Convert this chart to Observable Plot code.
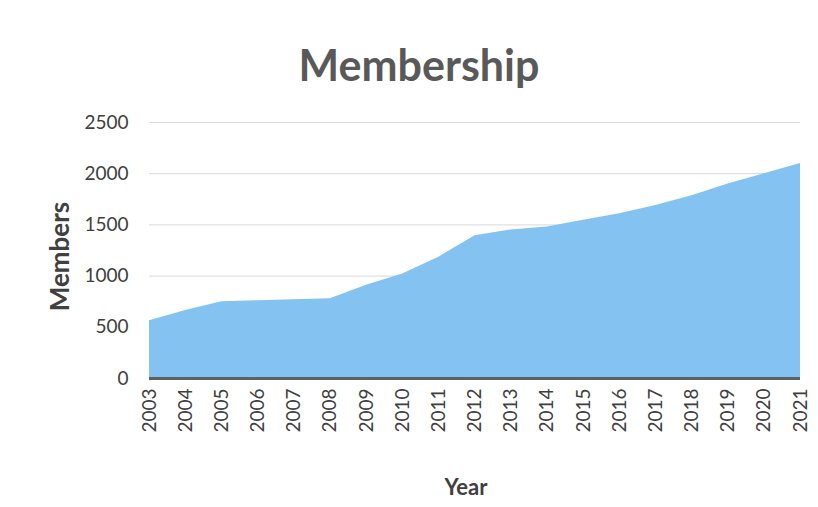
<!DOCTYPE html>
<html>
<head>
<meta charset="utf-8">
<script src="https://cdn.jsdelivr.net/npm/d3@7"></script>
<script src="https://cdn.jsdelivr.net/npm/@observablehq/plot@0.6"></script>
<style>
  html, body { margin: 0; padding: 0; background: #ffffff; }
  #chart { width: 818px; height: 507px; }
</style>
</head>
<body>
<div id="chart"></div>
<script>
const years = [2003, 2004, 2005, 2006, 2007, 2008, 2009, 2010, 2011, 2012, 2013, 2014, 2015, 2016, 2017, 2018, 2019, 2020, 2021];
const members = [565, 665, 750, 760, 770, 780, 910, 1020, 1185, 1395, 1450, 1480, 1545, 1610, 1690, 1785, 1900, 2000, 2100];
const yTicks = [0, 500, 1000, 1500, 2000, 2500];
const gridTicks = [500, 1000, 1500, 2000, 2500];
const titleText = "Membership";
const xLabel = "Year";
const yLabel = "Members";

const data = years.map((year, i) => ({year, members: members[i]}));

const chart = Plot.plot({
  width: 818,
  height: 507,
  marginLeft: 149,
  marginRight: 18,
  marginTop: 122,
  marginBottom: 129,
  style: {fontFamily: "Lato, 'Open Sans', sans-serif", fontSize: "19px", color: "#404040", background: "#ffffff"},
  x: {type: "linear", domain: [2003, 2021]},
  y: {domain: [0, 2500]},
  marks: [
    Plot.ruleY(gridTicks, {stroke: "#d9d9d9", strokeWidth: 1}),
    Plot.areaY(data, {x: "year", y: "members", fill: "#84c2f2"}),
    Plot.ruleY([0], {stroke: "#606060", strokeWidth: 3}),
    Plot.axisY({ticks: yTicks, tickFormat: "d", tickSize: 0, tickPadding: 21, label: null, fontSize: 19}),
    Plot.axisX({ticks: years, tickFormat: "d", tickRotate: -90, tickSize: 0, tickPadding: 10, label: null, fontSize: 19}),
    Plot.text([titleText], {frameAnchor: "top", dy: -55, dx: -56, fontSize: 43, fontWeight: "bold", fill: "#595959", lineAnchor: "middle", textAnchor: "middle"}),
    Plot.text([yLabel], {frameAnchor: "left", dx: -89, dy: 6, rotate: -90, textAnchor: "middle", lineAnchor: "middle", fontSize: 26, fontWeight: "bold", fill: "#404040"}),
    Plot.text([xLabel], {frameAnchor: "bottom", dy: 109, dx: -9, textAnchor: "middle", lineAnchor: "middle", fontSize: 22, fontWeight: "bold", fill: "#404040"})
  ]
});
document.getElementById("chart").appendChild(chart);
</script>
</body>
</html>
